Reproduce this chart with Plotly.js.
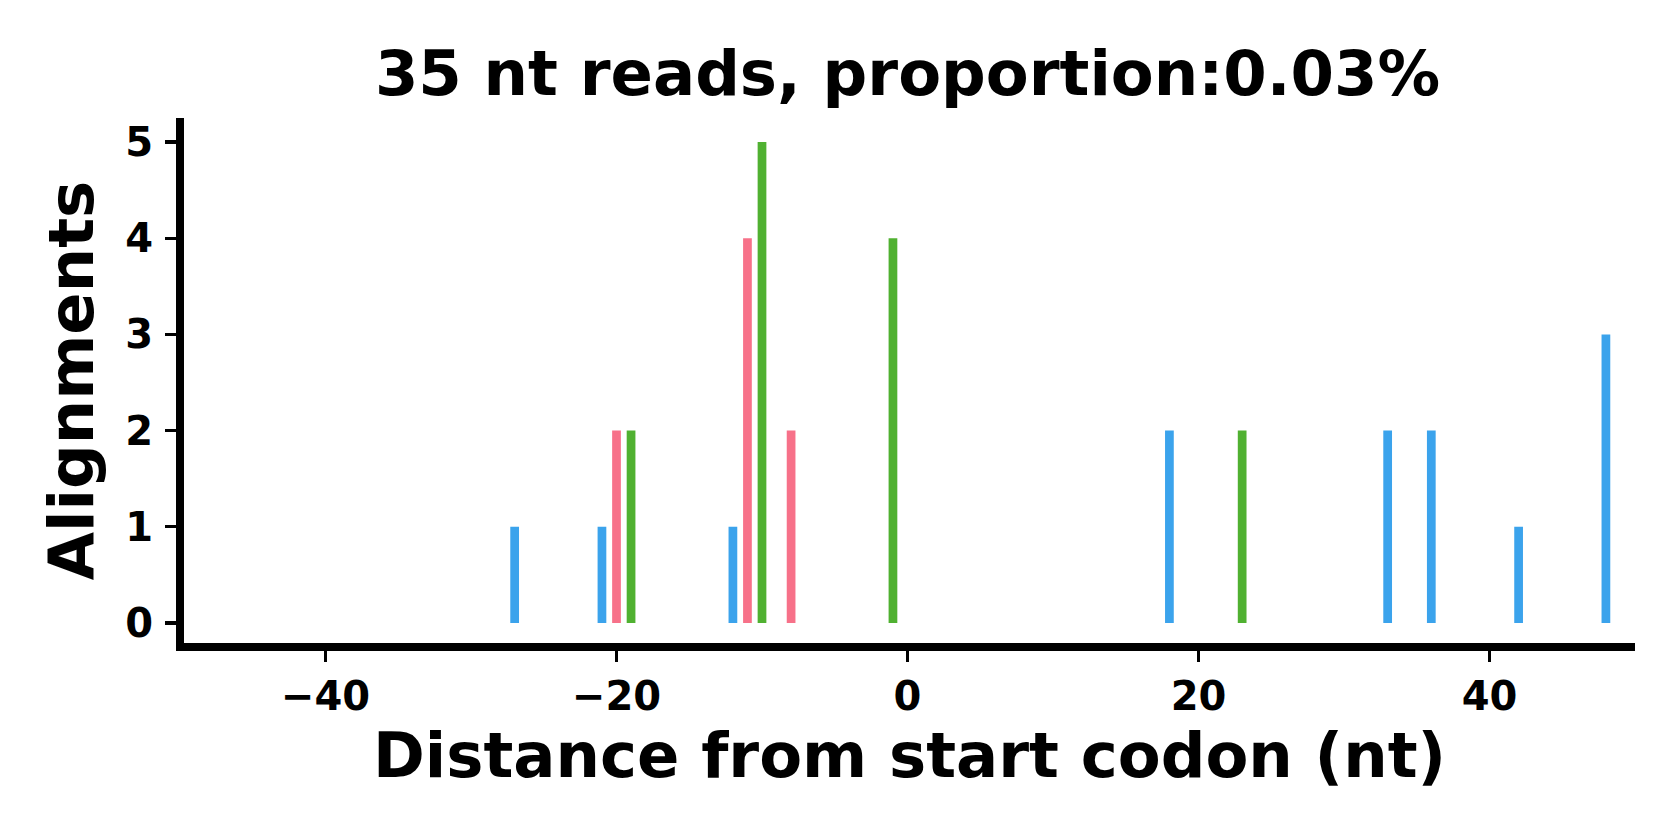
<!DOCTYPE html>
<html>
<head>
<meta charset="utf-8">
<script src="https://cdn.plot.ly/plotly-3.0.1.min.js"></script>
<style>
  html, body { margin: 0; padding: 0; background: #ffffff; }
  #chart { width: 1680px; height: 840px; }
</style>
</head>
<body>
<div id="chart"></div>
<script>
// Frame-coloured read counts by distance from start codon (nt)
const frame1Positions = [-20, -11, -8];
const frame1Counts = [2, 4, 2];
const frame2Positions = [-19, -10, -1, 23];
const frame2Counts = [2, 5, 4, 2];
const frame0Positions = [-27, -21, -12, 18, 33, 36, 42, 48];
const frame0Counts = [1, 1, 1, 2, 2, 2, 1, 3];

const xTickVals = [-40, -20, 0, 20, 40];
const xTickText = ["\u221240", "\u221220", "0", "20", "40"];
const yTickVals = [0, 1, 2, 3, 4, 5];

const titleText = "35 nt reads, proportion:0.03%";
const xTitleText = "Distance from start codon (nt)";
const yTitleText = "Alignments";

const colors = ["#f77189", "#50b131", "#3ba3ec"];
const FONT = "DejaVu Sans";

function barTrace(x, y, color, name) {
  return {
    type: "bar",
    x: x,
    y: y,
    name: name,
    width: 0.6,
    marker: { color: color, line: { width: 0 } },
    showlegend: false,
    hoverinfo: "x+y"
  };
}

const data = [
  barTrace(frame1Positions, frame1Counts, colors[0], "frame 1"),
  barTrace(frame2Positions, frame2Counts, colors[1], "frame 2"),
  barTrace(frame0Positions, frame0Counts, colors[2], "frame 0")
];

const layout = {
  width: 1680,
  height: 840,
  paper_bgcolor: "#ffffff",
  plot_bgcolor: "#ffffff",
  barmode: "overlay",
  margin: { l: 184, r: 45, t: 118, b: 197, pad: 0 },
  font: { family: FONT, color: "#000000" },
  title: {
    text: titleText,
    font: { family: FONT, size: 62.5, weight: "bold", color: "#000000" },
    xref: "container",
    yref: "container",
    x: 907.5 / 1680,
    xanchor: "center",
    y: 1 - 73 / 840,
    yanchor: "middle"
  },
  xaxis: {
    range: [-50 + 4 / 14.55, 50],
    tickvals: xTickVals,
    ticktext: xTickText,
    showgrid: false,
    zeroline: false,
    showline: true,
    linecolor: "#000000",
    linewidth: 8,
    ticks: "outside",
    ticklen: 11,
    tickwidth: 3.3,
    tickcolor: "#000000",
    tickfont: { family: FONT, size: 40, weight: "bold", color: "#000000" },
    title: {
      text: xTitleText,
      font: { family: FONT, size: 62.5, weight: "bold", color: "#000000" },
      standoff: 15
    },
    automargin: false,
    fixedrange: true
  },
  yaxis: {
    range: [-0.25 + 4 / 96.18, 5.25],
    tickvals: yTickVals,
    showgrid: false,
    zeroline: false,
    showline: true,
    linecolor: "#000000",
    linewidth: 8,
    ticks: "outside",
    ticklen: 11,
    tickwidth: 3.3,
    tickcolor: "#000000",
    ticklabelstandoff: 4,
    tickfont: { family: FONT, size: 40, weight: "bold", color: "#000000" },
    title: {
      text: yTitleText,
      font: { family: FONT, size: 62.5, weight: "bold", color: "#000000" },
      standoff: 14
    },
    automargin: false,
    fixedrange: true
  }
};

Plotly.newPlot("chart", data, layout, { displayModeBar: false, staticPlot: true });
</script>
</body>
</html>
